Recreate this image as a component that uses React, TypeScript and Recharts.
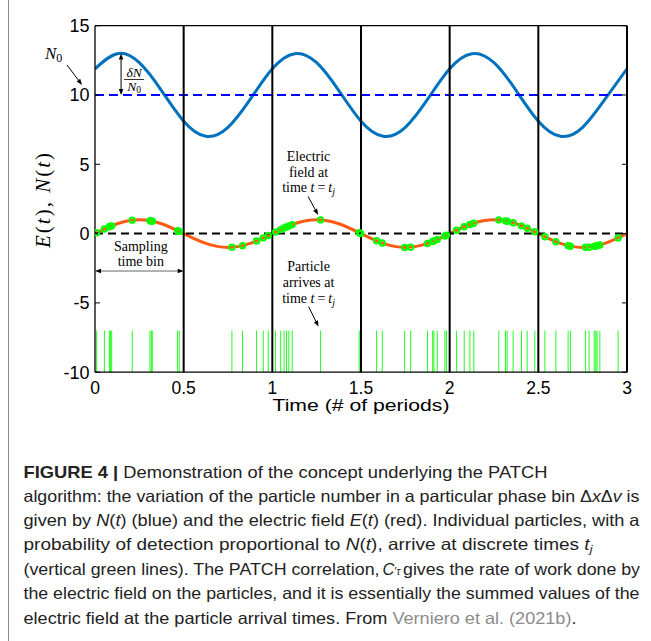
import React from 'react';
import { ComposedChart, Line, Scatter, XAxis, YAxis, ReferenceLine, ReferenceDot, Label } from 'recharts';

// ---- data ----
const timeGrid = [0, 0.125, 0.25, 0.375, 0.5, 0.625, 0.75, 0.875, 1, 1.125, 1.25, 1.375, 1.5, 1.625, 1.75, 1.875, 2, 2.125, 2.25, 2.375, 2.5, 2.625, 2.75, 2.875, 3];
const particleNumber = [11.89, 12.98, 12.33, 10.32, 8.11, 7.02, 7.67, 9.68, 11.89, 12.98, 12.33, 10.32, 8.11, 7.02, 7.67, 9.68, 11.89, 12.98, 12.33, 10.32, 8.11, 7.02, 7.67, 9.68, 11.89];
const electricField = [0, 0.71, 1, 0.71, 0, -0.71, -1, -0.71, 0, 0.71, 1, 0.71, 0, -0.71, -1, -0.71, 0, 0.71, 1, 0.71, 0, -0.71, -1, -0.71, 0];
const arrivalTimes = [0.009, 0.053, 0.081, 0.088, 0.094, 0.21, 0.31, 0.318, 0.323, 0.466, 0.475, 0.772, 0.832, 0.911, 0.949, 0.977, 1.018, 1.047, 1.066, 1.08, 1.093, 1.112, 1.272, 1.49, 1.498, 1.588, 1.62, 1.746, 1.78, 1.875, 1.904, 1.911, 1.93, 1.973, 1.982, 2.039, 2.082, 2.114, 2.136, 2.277, 2.315, 2.324, 2.358, 2.405, 2.437, 2.48, 2.537, 2.599, 2.668, 2.681, 2.766, 2.786, 2.815, 2.824, 2.831, 2.847, 2.95];
const fieldAtArrival = [0.06, 0.33, 0.49, 0.53, 0.56, 0.97, 0.93, 0.91, 0.9, 0.21, 0.16, -0.99, -0.87, -0.53, -0.31, -0.14, 0.11, 0.29, 0.4, 0.48, 0.55, 0.65, 0.99, 0.06, 0.01, -0.52, -0.68, -1.0, -0.98, -0.71, -0.57, -0.53, -0.43, -0.17, -0.11, 0.24, 0.49, 0.66, 0.75, 0.99, 0.92, 0.89, 0.78, 0.56, 0.39, 0.13, -0.23, -0.59, -0.87, -0.91, -0.99, -0.98, -0.92, -0.89, -0.87, -0.82, -0.31];
const xTicks = [0, 0.5, 1, 1.5, 2, 2.5, 3];
const yTicks = [-10, -5, 0, 5, 10, 15];
const binEdges = [0.5, 1, 1.5, 2, 2.5, 3];
const N0 = 10;
const ZERO = 0;
const Y_MAX = 15;
const RUG_BOTTOM = -10;
const RUG_TOP = -7;
const PEAK_T = 0.147;
const PEAK_N = 13;
const BIN_START = 0;
const BIN_END = 0.5;
const BIN_ARROW_Y = -2.7;
const TAGGED = 22;

const nData = timeGrid.map((t, i) => ({ t, n: particleNumber[i] }));
const eData = timeGrid.map((t, i) => ({ t, e: electricField[i] }));
const dotData = arrivalTimes.map((t, i) => ({ t, e: fieldAtArrival[i] }));

const SERIF = '"Liberation Serif", "DejaVu Serif", serif';
const SANS = '"Liberation Sans", Arial, sans-serif';

function arrowHead(x1: number, y1: number, x2: number, y2: number, len = 6, w = 4.5) {
  const dx = x2 - x1, dy = y2 - y1;
  const L = Math.sqrt(dx * dx + dy * dy) || 1;
  const ux = dx / L, uy = dy / L;
  const bx = x2 - ux * len, by = y2 - uy * len;
  const px = -uy * w / 2, py = ux * w / 2;
  return { bx, by, pts: `${x2},${y2} ${bx + px},${by + py} ${bx - px},${by - py}` };
}

function Arrow({ x1, y1, x2, y2 }: any) {
  const h = arrowHead(x1, y1, x2, y2);
  return (
    <g>
      <line x1={x1} y1={y1} x2={h.bx} y2={h.by} stroke="#000" strokeWidth={1} />
      <polygon points={h.pts} fill="#000" />
    </g>
  );
}

function DoubleArrow({ x1, y1, x2, y2, color = '#000' }: any) {
  const a = arrowHead(x1, y1, x2, y2);
  const b = arrowHead(x2, y2, x1, y1);
  return (
    <g>
      <line x1={b.bx} y1={b.by} x2={a.bx} y2={a.by} stroke={color} strokeWidth={1} />
      <polygon points={a.pts} fill="#000" />
      <polygon points={b.pts} fill="#000" />
    </g>
  );
}

const N0Label = (p: any) => {
  const { cx, cy } = p;
  return (
    <g>
      <text x={cx - 50} y={cy - 36} fontFamily={SERIF} fontSize={17} fontStyle="italic" fill="#000">
        N<tspan fontStyle="normal" fontSize={12} dy={3}>0</tspan>
      </text>
      <Arrow x1={cx - 28} y1={cy - 30} x2={cx - 13} y2={cy - 10} />
    </g>
  );
};

const DeltaN = (p: any) => {
  const { x1, y1, x2, y2 } = p;
  const cx = x1 + 13;
  return (
    <g>
      <DoubleArrow x1={x1} y1={y1} x2={x2} y2={y2} />
      <text x={cx} y={y2 - 18.5} textAnchor="middle" fontFamily={SERIF} fontSize={13.5} fontStyle="italic" fill="#000">δN</text>
      <line x1={x1 + 3} y1={y2 - 15.5} x2={x1 + 23} y2={y2 - 15.5} stroke="#000" strokeWidth={0.8} />
      <text x={cx} y={y2 - 4.5} textAnchor="middle" fontFamily={SERIF} fontSize={13.5} fontStyle="italic" fill="#000">
        N<tspan fontStyle="normal" fontSize={9.5} dy={2}>0</tspan>
      </text>
    </g>
  );
};

const SamplingBin = (p: any) => {
  const { x1, y1, x2, y2 } = p;
  const cx = (x1 + x2) / 2 + 1.5;
  return (
    <g>
      <DoubleArrow x1={x1} y1={y1} x2={x2} y2={y2} color="#666" />
      <text x={cx} y={y1 - 20} textAnchor="middle" fontFamily={SERIF} fontSize={14} fill="#000">Sampling</text>
      <text x={cx} y={y1 - 5.5} textAnchor="middle" fontFamily={SERIF} fontSize={14} fill="#000">time bin</text>
    </g>
  );
};

const TimeTj = ({ x, y }: any) => (
  <text x={x} y={y} textAnchor="middle" fontFamily={SERIF} fontSize={14} fill="#000">
    time <tspan fontStyle="italic">t</tspan><tspan dx={3}>=</tspan><tspan fontStyle="italic" dx={3}>t</tspan>
    <tspan fontStyle="italic" fontSize={10} dy={3}>j</tspan>
  </text>
);

const FieldNote = (p: any) => {
  const { cx, cy } = p;
  const tx = cx - 12;
  return (
    <g>
      <text x={tx} y={cy - 59} textAnchor="middle" fontFamily={SERIF} fontSize={14} fill="#000">Electric</text>
      <text x={tx} y={cy - 43} textAnchor="middle" fontFamily={SERIF} fontSize={14} fill="#000">field at</text>
      <TimeTj x={tx} y={cy - 27.5} />
      <Arrow x1={cx - 12.5} y1={cy - 23.5} x2={cx - 2.5} y2={cy - 5} />
    </g>
  );
};

const ParticleNote = (p: any) => {
  const { cx, cy } = p;
  const tx = cx - 12;
  return (
    <g>
      <text x={tx} y={cy - 59.5} textAnchor="middle" fontFamily={SERIF} fontSize={14} fill="#000">Particle</text>
      <text x={tx} y={cy - 43.5} textAnchor="middle" fontFamily={SERIF} fontSize={14} fill="#000">arrives at</text>
      <TimeTj x={tx} y={cy - 28} />
      <Arrow x1={cx - 12} y1={cy - 24} x2={cx - 2} y2={cy - 4} />
    </g>
  );
};

const Dot = (p: any) => (
  <circle cx={p.cx} cy={p.cy} r={2.7} fill="none" stroke="#00ff00" strokeWidth={2} />
);

const XLabel = (p: any) => {
  const vb = p.viewBox;
  return (
    <text x={vb.x + vb.width / 2} y={vb.y + 39} textAnchor="middle" fontFamily={SANS} fontSize={16.5} fill="#000" textLength={177} lengthAdjust="spacingAndGlyphs">
      Time (# of periods)
    </text>
  );
};

const noTick = () => <g />;

export default function App() {
  return (
    <div style={{ position: 'absolute', left: 0, top: 0, width: 651, height: 641, background: '#fff' }}>
      <ComposedChart width={651} height={430} margin={{ top: 25.7, right: 14, bottom: 7.8, left: 35 }}>
        <XAxis
          dataKey="t"
          type="number"
          domain={[0, 3]}
          ticks={xTicks}
          allowDataOverflow
          tickLine={false}
          tickSize={0}
          tickMargin={9}
          axisLine={{ stroke: '#000', strokeWidth: 1.3 }}
          tick={{ fontSize: 17.5, fill: '#000', fontFamily: SANS }}
          height={50}
        >
          <Label content={XLabel} />
        </XAxis>
        <YAxis
          type="number"
          domain={[-10, 15]}
          ticks={yTicks}
          allowDataOverflow
          width={60}
          tickSize={-5}
          tickMargin={10.5}
          tickLine={{ stroke: '#000' }}
          axisLine={{ stroke: '#000', strokeWidth: 1.3 }}
          tick={{ fontSize: 18, fill: '#000', fontFamily: SANS }}
        />
        <YAxis
          yAxisId="right"
          orientation="right"
          type="number"
          domain={[-10, 15]}
          ticks={yTicks}
          allowDataOverflow
          width={10}
          tickSize={-5}
          tickLine={{ stroke: '#000' }}
          axisLine={{ stroke: '#000', strokeWidth: 1.3 }}
          tick={noTick}
        />

        {arrivalTimes.map((t) => (
          <ReferenceLine
            key={'rug' + t}
            segment={[{ x: t, y: RUG_BOTTOM }, { x: t, y: RUG_TOP }]}
            stroke="#22ff22"
            strokeWidth={1}
          />
        ))}

        <Line data={nData} dataKey="n" type="natural" stroke="#0072BD" strokeWidth={3} dot={false} isAnimationActive={false} />
        <Line data={eData} dataKey="e" type="natural" stroke="#ff5a14" strokeWidth={3} dot={false} isAnimationActive={false} />

        <ReferenceLine y={N0} stroke="#0000ff" strokeWidth={2} strokeDasharray="9 5" />
        <ReferenceLine y={ZERO} stroke="#000" strokeWidth={2} strokeDasharray="8 5" />
        <ReferenceLine y={Y_MAX} stroke="#000" strokeWidth={1.3} />
        {binEdges.map((b) => (
          <ReferenceLine key={'bin' + b} x={b} stroke="#000" strokeWidth={2} />
        ))}

        <Scatter data={dotData} dataKey="e" shape={Dot} isAnimationActive={false} />

        <ReferenceLine segment={[{ x: PEAK_T, y: PEAK_N }, { x: PEAK_T, y: N0 }]} shape={DeltaN} />
        <ReferenceLine segment={[{ x: BIN_START, y: BIN_ARROW_Y }, { x: BIN_END, y: BIN_ARROW_Y }]} shape={SamplingBin} />
        <ReferenceDot x={0} y={N0} ifOverflow="visible" shape={N0Label} />
        <ReferenceDot x={arrivalTimes[TAGGED]} y={fieldAtArrival[TAGGED]} ifOverflow="visible" shape={FieldNote} />
        <ReferenceDot x={arrivalTimes[TAGGED]} y={RUG_TOP} ifOverflow="visible" shape={ParticleNote} />
      </ComposedChart>

      <svg width={651} height={641} style={{ position: 'absolute', left: 0, top: 0, pointerEvents: 'none' }}>
        <line x1={8.5} y1={0} x2={8.5} y2={641} stroke="#8a8a8a" strokeWidth={1} />
        <text x={50} y={200.5} transform="rotate(-90 50 200.5)" textAnchor="middle" fontFamily={SERIF} fontSize={21} fill="#000" textLength={95} lengthAdjust="spacing">
          <tspan fontStyle="italic">E</tspan>(<tspan fontStyle="italic">t</tspan>), <tspan fontStyle="italic">N</tspan>(<tspan fontStyle="italic">t</tspan>)
        </text>
        <g fontFamily={SANS} fontSize={16.5} fill="#222">
          <text x={23.5} y={477.7} textLength={524} lengthAdjust="spacingAndGlyphs">
            <tspan fontWeight="bold">FIGURE 4 | </tspan>Demonstration of the concept underlying the PATCH
          </text>
          <text x={23.5} y={502.2} textLength={616} lengthAdjust="spacingAndGlyphs">
            algorithm: the variation of the particle number in a particular phase bin Δ<tspan fontStyle="italic">x</tspan>Δ<tspan fontStyle="italic">v</tspan> is
          </text>
          <text x={23.5} y={526.2} textLength={616} lengthAdjust="spacingAndGlyphs">
            given by <tspan fontStyle="italic">N</tspan>(<tspan fontStyle="italic">t</tspan>) (blue) and the electric field <tspan fontStyle="italic">E</tspan>(<tspan fontStyle="italic">t</tspan>) (red). Individual particles, with a
          </text>
          <text x={23.5} y={550} textLength={569} lengthAdjust="spacingAndGlyphs">
            probability of detection proportional to <tspan fontStyle="italic">N</tspan>(<tspan fontStyle="italic">t</tspan>), arrive at discrete times <tspan fontStyle="italic">t</tspan><tspan fontStyle="italic" fontSize={11} dy={3}>j</tspan>
          </text>
          <text x={23.5} y={574.5} textLength={356} lengthAdjust="spacingAndGlyphs">
            (vertical green lines). The PATCH correlation,
          </text>
          <text x={382.5} y={574.5} fontStyle="italic">
            C<tspan fontStyle="normal" fontSize={11}>′</tspan><tspan fontSize={10}>τ</tspan>
          </text>
          <text x={403} y={574.5} textLength={237} lengthAdjust="spacingAndGlyphs">
            gives the rate of work done by
          </text>
          <text x={23.5} y={599} textLength={616} lengthAdjust="spacingAndGlyphs">
            the electric field on the particles, and it is essentially the summed values of the
          </text>
          <text x={23.5} y={623.8} textLength={553} lengthAdjust="spacingAndGlyphs">
            electric field at the particle arrival times. From <tspan fill="#8c8c8c">Verniero et al. (2021b)</tspan>.
          </text>
        </g>
      </svg>
    </div>
  );
}
